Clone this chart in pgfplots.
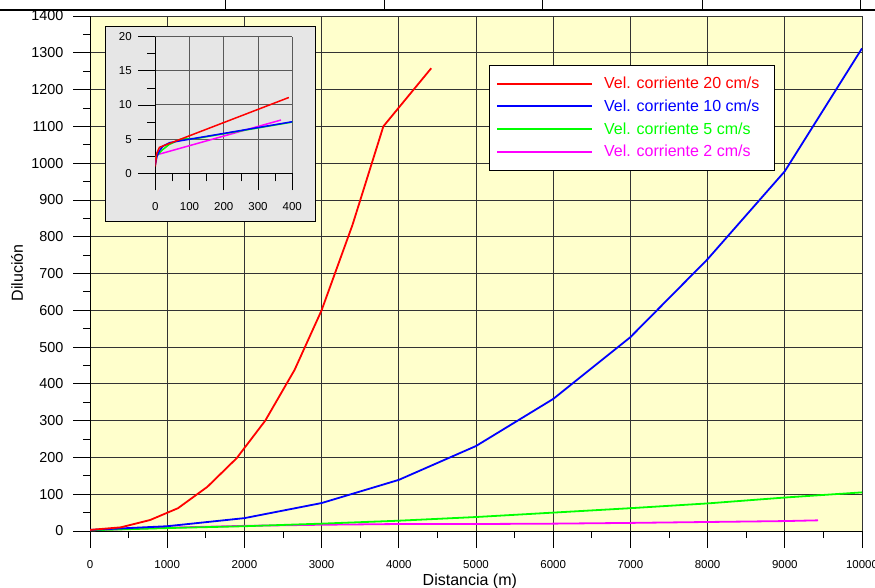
\documentclass[border=0pt]{standalone}
\usepackage{pgfplots}
\pgfplotsset{compat=1.18}
\usepackage{fontspec}
\setmainfont{Liberation Sans}
\definecolor{bgyellow}{RGB}{255,255,204}
\definecolor{insetgray}{RGB}{230,230,230}
\definecolor{cred}{RGB}{255,0,0}
\definecolor{cblue}{RGB}{0,0,255}
\definecolor{cgreen}{RGB}{0,255,0}
\definecolor{cmag}{RGB}{255,0,255}
\begin{document}
\begin{tikzpicture}[x=1pt,y=1pt]
\useasboundingbox (0,0) rectangle (875,587);
% top strip (table border)
\draw[line width=2pt] (0,577) -- (875,577);
\foreach \xx in {225,384,542,702,860} {\draw[line width=1pt] (\xx,577) -- (\xx,587);}
\begin{axis}[
  at={(90pt,56pt)}, anchor=south west,
  width=772pt, height=515pt, scale only axis,
  xmin=0, xmax=10000, ymin=0, ymax=1400,
  xtick={0,1000,...,10000}, ytick={0,100,...,1400},
  minor xtick={500,1500,...,9500}, minor ytick={50,150,...,1350},
  axis x line*=bottom, axis y line*=left,
  axis line style={black, line width=0.8pt},
  grid=major, major grid style={black!80, line width=0.8pt},
  tick align=outside, major tick length=17pt, minor tick length=7pt,
  every tick/.style={black, line width=0.8pt},
  axis background/.style={fill=bgyellow},
  scaled x ticks=false, scaled y ticks=false,
  /pgf/number format/assume math mode=true,
  /pgf/number format/1000 sep={},
  x tick label style={font=\fontsize{11.5}{13}\selectfont, yshift=-9pt},
  y tick label style={font=\fontsize{14.4}{16}\selectfont, xshift=-6pt},
  xlabel={Distancia (m)}, ylabel={Dilución},
  xlabel style={at={(axis description cs:0.492,0)}, anchor=center, yshift=-50pt, font=\fontsize{16}{18}\selectfont},
  ylabel style={at={(axis description cs:0,0.501)}, anchor=center, yshift=73pt, font=\fontsize{16}{18}\selectfont},
  legend style={at={(rel axis cs:0.517,0.905)}, anchor=north west, draw=black, fill=white,
    font=\fontsize{16}{18}\selectfont, row sep=5.6pt, inner xsep=7pt, inner ysep=10pt},
  legend cell align=left,
  legend image code/.code={\draw[#1, line width=1.8pt] (0pt,0pt) -- (95pt,0pt); \path (104pt,0pt);},
  reverse legend,
  every axis plot/.append style={line width=1.8pt},
]
\addplot[cmag] coordinates {(0,2) (1000,9) (2000,14) (3000,17) (4000,19) (5000,19) (6000,20) (7000,22) (8000,24.5) (9000,27) (9430,29)};
\addlegendentry{\textcolor{cmag}{Vel. corriente 2 cm/s}}
\addplot[cgreen] coordinates {(0,2) (1000,8) (2000,13) (3000,20) (4000,28) (5000,38) (6000,50) (7000,62) (8000,75) (9000,91) (10000,105)};
\addlegendentry{\textcolor{cgreen}{Vel. corriente 5 cm/s}}
\addplot[cblue] coordinates {(0,3) (1000,13) (2000,35) (3000,76) (4000,139) (5000,231) (6000,359) (7000,527) (8000,739) (9000,978) (10000,1312)};
\addlegendentry{\textcolor{cblue}{Vel. corriente 10 cm/s}\hspace*{6pt}}
\addplot[cred] coordinates {(0,3) (400,10) (780,30) (1140,62) (1520,120) (1900,198) (2270,300) (2650,438) (3000,600) (3400,832) (3800,1100) (4420,1258)};
\addlegendentry{\textcolor{cred}{Vel. corriente 20 cm/s}\hspace*{6pt}}
\end{axis}
\filldraw[fill=insetgray, draw=black, line width=0.8pt] (105,366) rectangle (315,561);
\begin{axis}[
  at={(155.3pt,413.7pt)}, anchor=south west,
  width=137pt, height=136.6pt, scale only axis,
  xmin=0, xmax=400, ymin=0, ymax=20,
  xtick={0,100,...,400}, ytick={0,5,...,20},
  minor xtick={50,150,...,350}, minor ytick={2.5,7.5,...,17.5},
  axis x line*=bottom, axis y line*=left,
  axis line style={black, line width=0.8pt},
  grid=major, major grid style={black!65, line width=1pt},
  tick align=outside, major tick length=17pt, minor tick length=8pt,
  every tick/.style={black, line width=0.8pt},
  /pgf/number format/assume math mode=true,
  tick label style={font=\fontsize{11.5}{13}\selectfont},
  x tick label style={yshift=-9pt},
  y tick label style={xshift=-3pt},
  every axis plot/.append style={line width=1.5pt},
]
\addplot[cmag] coordinates {(0,1.5) (4,2.7) (367,7.8)};
\addplot[cgreen] coordinates {(0,2.3) (20,3.4) (40,4.2) (77,5.05) (120,5.1) (400,7.5)};
\addplot[cblue] coordinates {(0,1.2) (5,2.5) (12,3.3) (23,4.0) (43,4.5) (400,7.55)};
\addplot[cred] coordinates {(0,1) (4,2.9) (12,3.8) (390,11.1)};
\end{axis}
\end{tikzpicture}
\end{document}
